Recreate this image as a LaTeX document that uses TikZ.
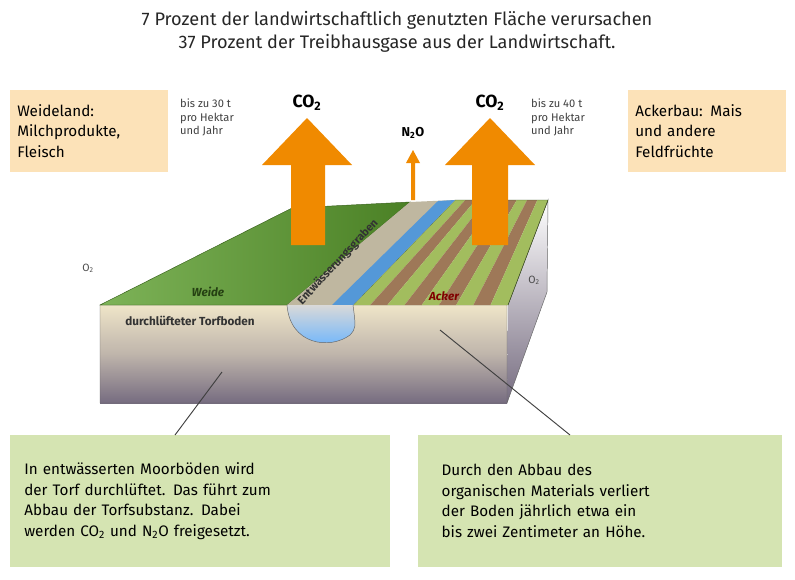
\documentclass[tikz,border=0pt]{standalone}
\usepackage{fontspec}
\setmainfont{Fira Sans}
\usepackage{tikz}
\definecolor{boxorange}{HTML}{FCE2B8}
\definecolor{boxgreen}{HTML}{D5E4B2}
\definecolor{arroworange}{HTML}{F08A00}
\definecolor{grass}{HTML}{5DA02E}
\definecolor{soilbeige}{HTML}{EFE5C8}
\definecolor{soilgray}{HTML}{766C80}
\definecolor{stripebrown}{HTML}{9E7858}
\definecolor{stripegreen}{HTML}{A2BD5E}
\tikzset{
    infobox/.style={fill=#1, inner sep=6pt, align=left, anchor=north west, font=\fontsize{13}{17.5}\selectfont},
    smalltext/.style={align=left, font=\fontsize{9.5}{11.5}\selectfont, text=black!75},
    gas/.style={font=\bfseries\fontsize{15}{15}\selectfont},
    pointer/.style={draw=black!75, thick},
}
\begin{document}
\begin{tikzpicture}[x=0.03cm, y=-0.03cm]
        \useasboundingbox (0,0) rectangle (795,579);
        % title
        \node[font=\fontsize{15.5}{20}\selectfont, align=center, text=black!85] (title) at (397,32) {
            7 Prozent der landwirtschaftlich genutzten Fläche verursachen\\
            37 Prozent der Treibhausgase aus der Landwirtschaft.
        };
        % right side face
        \shade[top color=white, bottom color=soilgray] (508,305) -- (548,200) -- (547,292) -- (507,403) -- cycle;
        % front face
        \shade[top color=soilbeige, bottom color=soilgray, middle color=soilbeige!60!soilgray] (100,305) rectangle (507,403);
        \draw[black!60] (100,305) rectangle (507,403) (508,305) -- (548,200) -- (547,292) -- (507,403);
        % pasture
        \shade[left color=grass!80!white, right color=grass!80!black, draw=grass!60!black] (100,305) -- (292,208) -- (410,202) -- (287,305) -- cycle;
        % field stripes
        \begin{scope}
            \clip (353,305) -- (455,200) -- (548,200) -- (508,305) -- cycle;
            \foreach \i in {0,...,9} {
                \pgfmathsetmacro{\ca}{353+\i*17.2}
                \pgfmathsetmacro{\cb}{353+(\i+1)*17.2}
                \pgfmathsetmacro{\da}{455+\i*10.3}
                \pgfmathsetmacro{\db}{455+(\i+1)*10.3}
                \pgfmathparse{mod(\i,2)==0 ? "stripegreen" : "stripebrown"}
                \fill[\pgfmathresult] (\ca,305) -- (\da,200) -- (\db,200) -- (\cb,305) -- cycle;
            }
        \end{scope}
        \draw[grass!50!black] (353,305) -- (455,200) -- (548,200) -- (508,305);
        % ditch
        \fill[black!20!soilbeige] (287,305) -- (410,202) -- (455,200) -- (353,305) -- cycle;
        \fill[cyan!60!blue!70] (332,305) -- (438,201) -- (455,200) -- (353,305) -- cycle;
        \shade[top color=black!15, bottom color=cyan!50!blue!60, draw=black!60]
            (287,305) .. controls (290,345) and (330,350) .. (350,335) .. controls (356,328) .. (353,305);
        % arrows
        \fill[arroworange] (291,245) -- (291,165) -- (262,165) -- (307,118) -- (352,165) -- (325,165) -- (325,245) -- cycle;
        \fill[arroworange] (472,245) -- (472,165) -- (445,165) -- (490,118) -- (535,165) -- (508,165) -- (508,245) -- cycle;
        \fill[arroworange] (411,200) -- (411,163) -- (406,163) -- (413,150) -- (420,163) -- (415,163) -- (415,200) -- cycle;
        % gases
        \node[gas] (CO2left) at (307,103) {CO\textsubscript{2}};
        \node[gas] (CO2right) at (490,103) {CO\textsubscript{2}};
        \node[font=\bfseries\fontsize{11}{11}\selectfont] (N2O) at (413,133) {N\textsubscript{2}O};
        \node[font=\fontsize{9}{9}\selectfont, text=black!70] (O2left) at (88,268) {O\textsubscript{2}};
        \node[font=\fontsize{9}{9}\selectfont, text=black!70] (O2right) at (534,280) {O\textsubscript{2}};
        % surface labels
        \node[font=\bfseries\itshape\fontsize{10}{10}\selectfont, text=grass!40!black] (Weide) at (208,292) {Weide};
        \node[font=\bfseries\itshape\fontsize{10}{10}\selectfont, text=red!50!black] (Acker) at (444,296) {Acker};
        \node[font=\bfseries\fontsize{10}{10}\selectfont, text=black!80] (Torfboden) at (190,321) {durchlüfteter Torfboden};
        \node[font=\bfseries\fontsize{9.5}{9.5}\selectfont, text=black!80, rotate=47, inner sep=0pt] (Graben) at (338,262) {Entwässerungsgraben};
        % boxes on top
        \node[infobox=boxorange, text width=4.3cm, minimum height=2.45cm] (Weideland) at (10,90) {
            Weideland:\\ Milchprodukte,\\ Fleisch
        };
        \node[infobox=boxorange, text width=4.3cm, minimum height=2.45cm] (Ackerbau) at (628,90) {
            Ackerbau: Mais\\ und andere\\ Feldfrüchte
        };
        \node[smalltext, anchor=north west] (RateLeft) at (176,95) {
            bis zu 30 t\\ pro Hektar\\ und Jahr
        };
        \node[smalltext, anchor=north west] (RateRight) at (527,95) {
            bis zu 40 t\\ pro Hektar\\ und Jahr
        };
        % boxes below
        \coordinate (PeatPoint) at (222,372);
        \coordinate (FieldPoint) at (440,330);
        \node[infobox=boxgreen, text width=10.55cm, minimum height=3.95cm, inner xsep=12pt, inner ysep=14pt] (Entwaesserung) at (10,435) {
            In entwässerten Moorböden wird\\ der Torf durchlüftet. Das führt zum\\ Abbau der Torfsubstanz. Dabei\\ werden CO\textsubscript{2} und N\textsubscript{2}O freigesetzt.
        };
        \node[infobox=boxgreen, text width=9.5cm, minimum height=3.95cm, inner xsep=20pt, inner ysep=14pt] (Abbau) at (418,435) {
            Durch den Abbau des\\ organischen Materials verliert\\ der Boden jährlich etwa ein\\ bis zwei Zentimeter an Höhe.
        };
        \draw[pointer] (Entwaesserung.north west) ++(165,0) -- (PeatPoint);
        \draw[pointer] (Abbau.north west) ++(152,0) -- (FieldPoint);
    \end{tikzpicture}
\end{document}
